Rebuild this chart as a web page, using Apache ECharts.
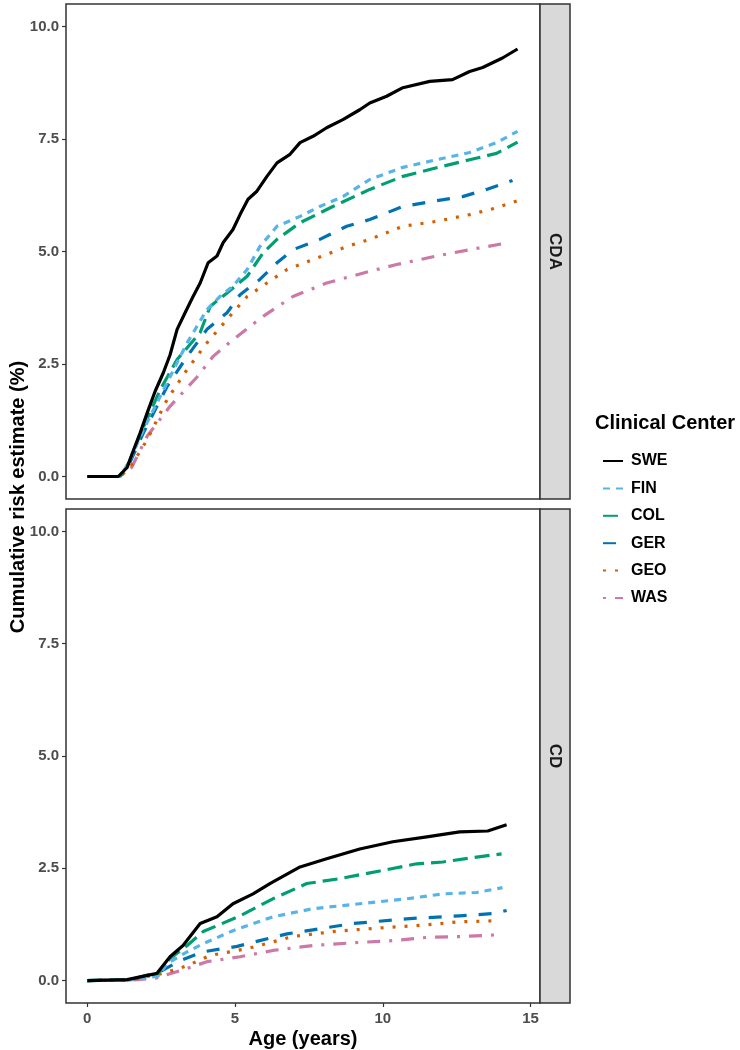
<!DOCTYPE html>
<html>
<head>
<meta charset="utf-8">
<script src="https://cdn.jsdelivr.net/npm/echarts@6/dist/echarts.min.js"></script>
<style>
  html, body { margin: 0; padding: 0; background: #fff; }
  #main { width: 740px; height: 1050px; }
</style>
</head>
<body>
<div id="main"></div>
<script>
// clinical centers, in legend order
var centers = ['SWE', 'FIN', 'COL', 'GER', 'GEO', 'WAS'];
var panels = ['CDA', 'CD'];
var xTicks = [0, 5, 10, 15];
var yTicks = [0, 2.5, 5, 7.5, 10];

// CDA panel: [age, cumulative risk %]
var cdaSWE = [[0,0],[1.05,0],[1.35,0.2],[1.55,0.56],[1.79,0.97],[2.03,1.42],[2.3,1.9],[2.57,2.3],[2.8,2.7],[3.04,3.27],[3.31,3.64],[3.58,4.0],[3.82,4.3],[4.09,4.75],[4.39,4.9],[4.6,5.2],[4.93,5.49],[5.17,5.82],[5.44,6.16],[5.74,6.34],[6.08,6.67],[6.42,6.97],[6.86,7.16],[7.2,7.42],[7.64,7.56],[8.1,7.75],[8.65,7.93],[9.22,8.15],[9.56,8.3],[10.13,8.45],[10.68,8.64],[11.59,8.78],[12.36,8.82],[12.94,9.0],[13.38,9.09],[14.05,9.3],[14.56,9.5]];
var cdaFIN = [[0,0],[1.1,0],[1.4,0.3],[1.9,1.04],[2.47,1.78],[3.04,2.53],[3.38,2.97],[4.05,3.71],[4.49,4.0],[4.93,4.23],[5.41,4.6],[5.84,5.11],[6.42,5.56],[7.2,5.78],[7.87,6.0],[8.65,6.22],[9.56,6.6],[10.68,6.87],[11.82,7.04],[12.94,7.2],[13.85,7.42],[14.56,7.67]];
var cdaCOL = [[0,0],[1.1,0],[1.4,0.3],[1.9,1.1],[2.47,1.93],[3.04,2.6],[3.82,3.2],[4.16,3.78],[4.73,4.08],[5.41,4.45],[5.95,4.97],[6.42,5.27],[7.2,5.64],[8.31,6.0],[9.56,6.38],[10.68,6.67],[11.82,6.86],[12.94,7.04],[13.85,7.18],[14.56,7.43]];
var cdaGER = [[0,0],[1.1,0],[1.4,0.25],[1.9,0.97],[2.7,2.0],[3.38,2.67],[4.05,3.27],[4.73,3.64],[5.17,4.04],[5.84,4.38],[6.42,4.75],[6.96,5.04],[7.87,5.27],[8.78,5.56],[9.56,5.71],[10.68,6.0],[11.82,6.13],[12.7,6.22],[13.51,6.38],[14.39,6.58]];
var cdaGEO = [[0,0],[1.1,0],[1.45,0.2],[2.03,0.82],[2.7,1.71],[3.38,2.38],[4.05,2.97],[4.73,3.49],[5.41,4.0],[6.08,4.3],[6.76,4.6],[7.64,4.82],[8.78,5.11],[9.56,5.27],[10.68,5.56],[11.82,5.67],[12.94,5.82],[13.85,5.97],[14.56,6.13]];
var cdaWAS = [[0,0],[1.1,0],[1.5,0.2],[2.03,0.9],[2.8,1.56],[3.7,2.2],[4.26,2.67],[4.93,3.04],[5.95,3.56],[6.96,4.0],[8.1,4.3],[9.56,4.56],[10.47,4.71],[11.82,4.9],[12.94,5.04],[14.29,5.2]];

// CD panel
var cdSWE = [[0,0],[1.35,0.02],[2.36,0.16],[2.8,0.53],[3.24,0.78],[3.82,1.27],[4.39,1.42],[4.93,1.71],[5.61,1.93],[6.18,2.16],[7.2,2.53],[8.1,2.71],[9.22,2.93],[10.34,3.09],[11.49,3.2],[12.6,3.31],[13.55,3.33],[14.19,3.47]];
var cdFIN = [[0,0],[1.4,0.01],[2.4,0.1],[2.7,0.38],[3.38,0.64],[3.92,0.82],[4.93,1.11],[6.28,1.42],[7.64,1.6],[9.22,1.71],[10.81,1.82],[12.03,1.93],[13.18,1.96],[14.05,2.07]];
var cdCOL = [[0,0],[1.4,0.02],[2.36,0.13],[2.8,0.49],[3.38,0.78],[3.92,1.09],[5.17,1.44],[6.28,1.82],[7.43,2.16],[8.55,2.27],[9.9,2.44],[11.15,2.6],[12.03,2.64],[13.18,2.75],[14.02,2.82]];
var cdGER = [[0,0],[1.4,0.01],[2.47,0.2],[3.14,0.44],[3.92,0.64],[5.07,0.76],[5.84,0.89],[6.76,1.04],[7.64,1.13],[8.99,1.27],[10.91,1.38],[12.6,1.44],[13.72,1.49],[14.19,1.56]];
var cdGEO = [[0,0],[1.4,0.01],[2.57,0.16],[3.38,0.33],[4.16,0.56],[5.41,0.71],[6.96,0.98],[8.31,1.09],[9.66,1.16],[11.49,1.24],[12.6,1.31],[13.85,1.33]];
var cdWAS = [[0,0],[1.4,0.01],[2.3,0.05],[3.38,0.27],[4.05,0.42],[5.17,0.53],[6.28,0.67],[7.64,0.78],[8.99,0.84],[10.34,0.89],[11.49,0.96],[12.6,0.98],[13.95,1.02]];

var curves = [
  [cdaSWE, cdaFIN, cdaCOL, cdaGER, cdaGEO, cdaWAS],
  [cdSWE, cdFIN, cdCOL, cdGER, cdGEO, cdWAS]
];

// look of each center (okabe-ito colours + ggplot-ish linetypes)
var looks = {
  SWE: { color: '#000000', type: 'solid' },
  FIN: { color: '#56B4E9', type: [7, 6] },
  COL: { color: '#009E73', type: [15, 7] },
  GER: { color: '#0072B2', type: [13, 12] },
  GEO: { color: '#D55E00', type: [3, 9] },
  WAS: { color: '#CC79A7', type: [3, 9, 13, 9] }
};

var font = '"Liberation Sans", Arial, sans-serif';
var grids = [
  { left: 66, top: 4, width: 474, height: 495 },
  { left: 66, top: 509, width: 474, height: 494 }
];

var chart = echarts.init(document.getElementById('main'), null, { renderer: 'canvas' });

var option = {
  animation: false,
  backgroundColor: '#ffffff',
  grid: grids.map(function (g) {
    return Object.assign({ show: true, borderColor: '#333333', borderWidth: 1.5, backgroundColor: '#fff' }, g);
  }),
  xAxis: grids.map(function (g, i) {
    return {
      type: 'value', gridIndex: i, min: -0.72, max: 15.32, position: 'bottom',
      axisLine: { show: false, onZero: false },
      splitLine: { show: false },
      axisTick: { show: i === 1, length: 4, customValues: xTicks, lineStyle: { color: '#333', width: 1.2 } },
      axisLabel: { show: i === 1, customValues: xTicks, margin: 8, color: '#4d4d4d',
        fontFamily: font, fontWeight: 'bold', fontSize: 15 }
    };
  }),
  yAxis: grids.map(function (g, i) {
    return {
      type: 'value', gridIndex: i, min: -0.5, max: 10.5, position: 'left',
      axisLine: { show: false, onZero: false },
      splitLine: { show: false },
      axisTick: { show: true, length: 4, customValues: yTicks, lineStyle: { color: '#333', width: 1.2 } },
      axisLabel: { customValues: yTicks, margin: 7, color: '#4d4d4d', fontFamily: font,
        fontWeight: 'bold', fontSize: 15, formatter: function (v) { return v.toFixed(1); } }
    };
  }),
  legend: {
    orient: 'vertical', left: 597, top: 448,
    itemWidth: 20, itemHeight: 14, itemGap: 11.4,
    data: centers,
    itemStyle: { opacity: 0 },
    textStyle: { fontFamily: font, fontWeight: 'bold', fontSize: 16, color: '#000', padding: [0, 0, 0, 3] }
  },
  graphic: [],
  series: []
};

panels.forEach(function (p, pi) {
  centers.forEach(function (c, ci) {
    option.series.push({
      name: c, type: 'line', xAxisIndex: pi, yAxisIndex: pi,
      data: curves[pi][ci], symbol: 'none', z: 10 - ci,
      itemStyle: { color: looks[c].color },
      lineStyle: { color: looks[c].color, type: looks[c].type, width: 3.2, cap: 'butt', join: 'round' }
    });
  });
  var g = grids[pi];
  option.graphic.push({
    type: 'rect', shape: { x: 540, y: g.top, width: 30, height: g.height },
    style: { fill: '#d9d9d9', stroke: '#333333', lineWidth: 1.5 }
  });
  option.graphic.push({
    type: 'text', x: 555, y: g.top + g.height / 2, rotation: -Math.PI / 2,
    style: { text: p, fill: '#1a1a1a', font: 'bold 17px ' + font, textAlign: 'center', textVerticalAlign: 'middle' }
  });
});

option.graphic.push(
  {
    type: 'text', x: 18, y: 497, rotation: Math.PI / 2,
    style: { text: 'Cumulative risk estimate (%)', fill: '#000', font: 'bold 20px ' + font,
      textAlign: 'center', textVerticalAlign: 'middle' }
  },
  {
    type: 'text', x: 303, y: 1039,
    style: { text: 'Age (years)', fill: '#000', font: 'bold 20px ' + font,
      textAlign: 'center', textVerticalAlign: 'middle' }
  },
  {
    type: 'text', x: 595, y: 423,
    style: { text: 'Clinical Center', fill: '#000', font: 'bold 20px ' + font,
      textAlign: 'left', textVerticalAlign: 'middle' }
  }
);

chart.setOption(option);
</script>
</body>
</html>
